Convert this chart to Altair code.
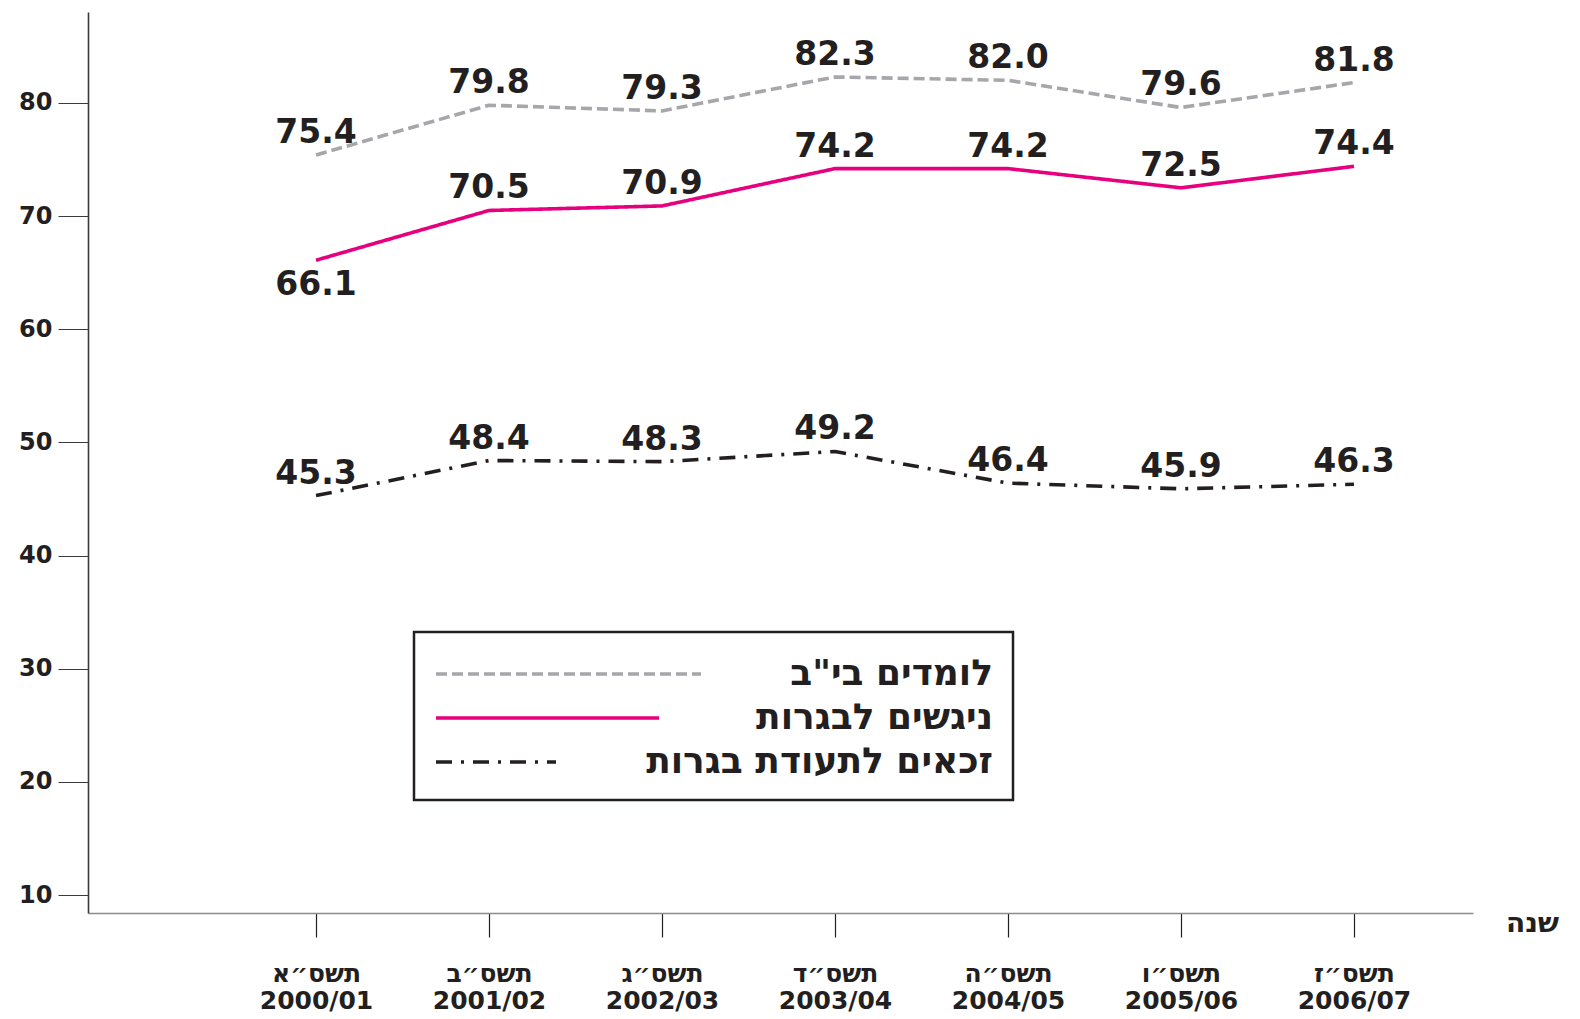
import json
import altair as alt
import pandas as pd

# ---- data ----
series_names = ['לומדים בי"ב', 'ניגשים לבגרות', 'זכאים לתעודת בגרות']
year_heb = ['תשס״א', 'תשס״ב', 'תשס״ג', 'תשס״ד', 'תשס״ה', 'תשס״ו', 'תשס״ז']
year_num = ['2000/01', '2001/02', '2002/03', '2003/04', '2004/05', '2005/06', '2006/07']
learners = [75.4, 79.8, 79.3, 82.3, 82.0, 79.6, 81.8]
examinees = [66.1, 70.5, 70.9, 74.2, 74.2, 72.5, 74.4]
eligible = [45.3, 48.4, 48.3, 49.2, 46.4, 45.9, 46.3]
y_ticks = [10, 20, 30, 40, 50, 60, 70, 80]

rows = []
for name, vals in zip(series_names, [learners, examinees, eligible]):
    for i, v in enumerate(vals):
        rows.append({"series": name, "idx": i, "value": v, "label": f"{v:.1f}"})
df = pd.DataFrame(rows)

colors = ["#a7a7ab", "#e6007e", "#231f20"]
dashes = [[11, 5], [1, 0], [16, 9, 3, 9]]

heb_js = json.dumps(year_heb, ensure_ascii=False)
num_js = json.dumps(year_num, ensure_ascii=False)

FONT = "DejaVu Sans"
W, H = 1385, 901

x_scale = alt.Scale(domain=[-1.318, 6.688], nice=False, zero=False)
y_scale = alt.Scale(domain=[8.41, 88.04], nice=False, zero=False)

legend_shapes = alt.ExprRef(expr="datum.index == 0 ? 'M-1,0H12.25' : "
                                 "(datum.index == 1 ? 'M-1,0H10.15' : 'M-1,0H5')")

base = alt.Chart(df)

lines = base.mark_line(strokeWidth=3.6, strokeCap="butt", strokeJoin="miter").encode(
    x=alt.X("idx:Q", scale=x_scale,
            axis=alt.Axis(values=list(range(7)),
                          labelExpr=f"[{heb_js}[datum.value], {num_js}[datum.value]]",
                          title="שנה", titleAngle=0, titleX=W + 59, titleY=10,
                          titleAlign="center", titleBaseline="middle",
                          titleFont=FONT, titleFontSize=28, titleFontWeight="bold",
                          titleColor="#231f20")),
    y=alt.Y("value:Q", scale=y_scale,
            axis=alt.Axis(values=y_ticks, title=None)),
    color=alt.Color("series:N", scale=alt.Scale(domain=series_names, range=colors),
                    legend=alt.Legend(title=None, symbolType=legend_shapes)),
    strokeDash=alt.StrokeDash("series:N", scale=alt.Scale(domain=series_names, range=dashes),
                              legend=alt.Legend(title=None, symbolType=legend_shapes)),
    detail="series:N",
)

labels_above = base.transform_filter(
    f"!(datum.series == '{series_names[1]}' && datum.idx == 0)"
).mark_text(font=FONT, fontWeight="bold", fontSize=33, dy=-22, color="#231f20",
            baseline="middle").encode(
    x=alt.X("idx:Q", scale=x_scale),
    y=alt.Y("value:Q", scale=y_scale),
    text="label:N",
)

labels_below = base.transform_filter(
    f"datum.series == '{series_names[1]}' && datum.idx == 0"
).mark_text(font=FONT, fontWeight="bold", fontSize=33, dy=25, color="#231f20",
            baseline="middle").encode(
    x=alt.X("idx:Q", scale=x_scale),
    y=alt.Y("value:Q", scale=y_scale),
    text="label:N",
)

chart = alt.layer(lines, labels_above, labels_below).properties(
    width=W, height=H,
    autosize=alt.AutoSizeParams(type="none"),
    padding={"left": 80, "top": 4, "right": 90, "bottom": 100},
    background="white",
).configure_view(stroke=None).configure_axisY(
    domainColor="#3a3a3a", domainWidth=1.6,
    tickColor="#3a3a3a", tickWidth=1, tickSize=30,
    labelFont=FONT, labelFontWeight="bold", labelFontSize=24, labelColor="#231f20",
    labelPadding=6, grid=False,
).configure_axisX(
    domainColor="#8c8c8c", domainWidth=1.6,
    tickColor="#231f20", tickWidth=1.2, tickSize=24,
    labelFont=FONT, labelFontWeight="bold", labelFontSize=25, labelColor="#231f20",
    labelPadding=24, labelLineHeight=27, labelBaseline="top", grid=False,
).configure_legend(
    orient="none", legendX=326, legendY=620,
    fillColor="white", strokeColor="#231f20", strokeWidth=2.5,
    padding=20, symbolSize=1600, symbolStrokeWidth=3.6,
    labelFont=FONT, labelFontWeight="bold", labelFontSize=36, labelColor="#231f20",
    labelAlign="right", labelOffset=515, labelLimit=600, rowPadding=4,
)

chart.save("out.html", embed_options={"renderer": "svg", "actions": False})
